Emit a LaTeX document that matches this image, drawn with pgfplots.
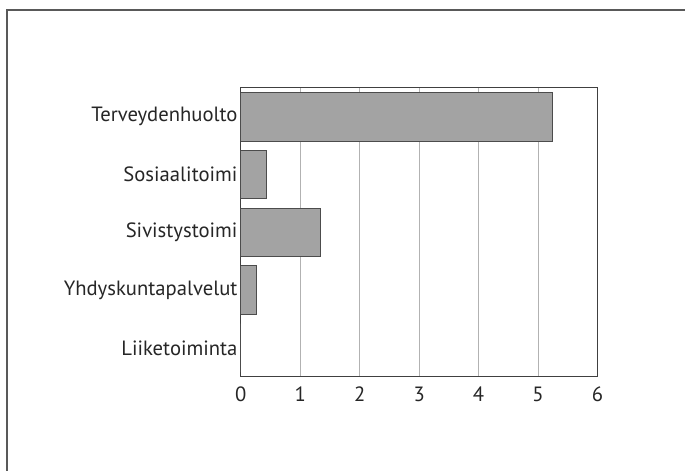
\documentclass[border=0pt]{standalone}
\usepackage{pgfplots}
\pgfplotsset{compat=1.18}
\usepackage{fontspec}
\setmainfont{PT Sans}
\begin{document}
\begin{tikzpicture}[x=1pt,y=1pt]
\path (0,0) rectangle (514.5,353.25);
\draw[gray!70!black, line width=0.8pt] (5.25,0) -- (5.25,345.75) -- (514.5,345.75);
\begin{axis}[
  at={(180.75pt,70.5pt)}, anchor=south west,
  scale only axis, width=267.75pt, height=216.75pt,
  xbar, bar width=0.84, bar shift=0pt,
  xmin=0, xmax=6, ymin=-0.5, ymax=4.5,
  xtick={0,1,2,3,4,5,6},
  ytick={0,1,2,3,4},
  yticklabels={Liiketoiminta,Yhdyskuntapalvelut,Sivistystoimi,Sosiaalitoimi,Terveydenhuolto},
  major tick length=0pt,
  xmajorgrids, grid style={gray!60, line width=0.6pt},
  axis line style={black!75, line width=0.8pt},
  tick label style={font=\fontsize{15.5}{17}\selectfont, text=black!85},
  /pgf/number format/assume math mode=true,
  yticklabel style={xshift=1pt},
  xticklabel style={yshift=-4pt},
  axis on top=false,
]
\addplot[fill=gray!72, draw=black!70, line width=0.6pt] coordinates {
  (5.24,4) (0.43,3) (1.34,2) (0.27,1) (0,0)
};
\end{axis}
\end{tikzpicture}
\end{document}
